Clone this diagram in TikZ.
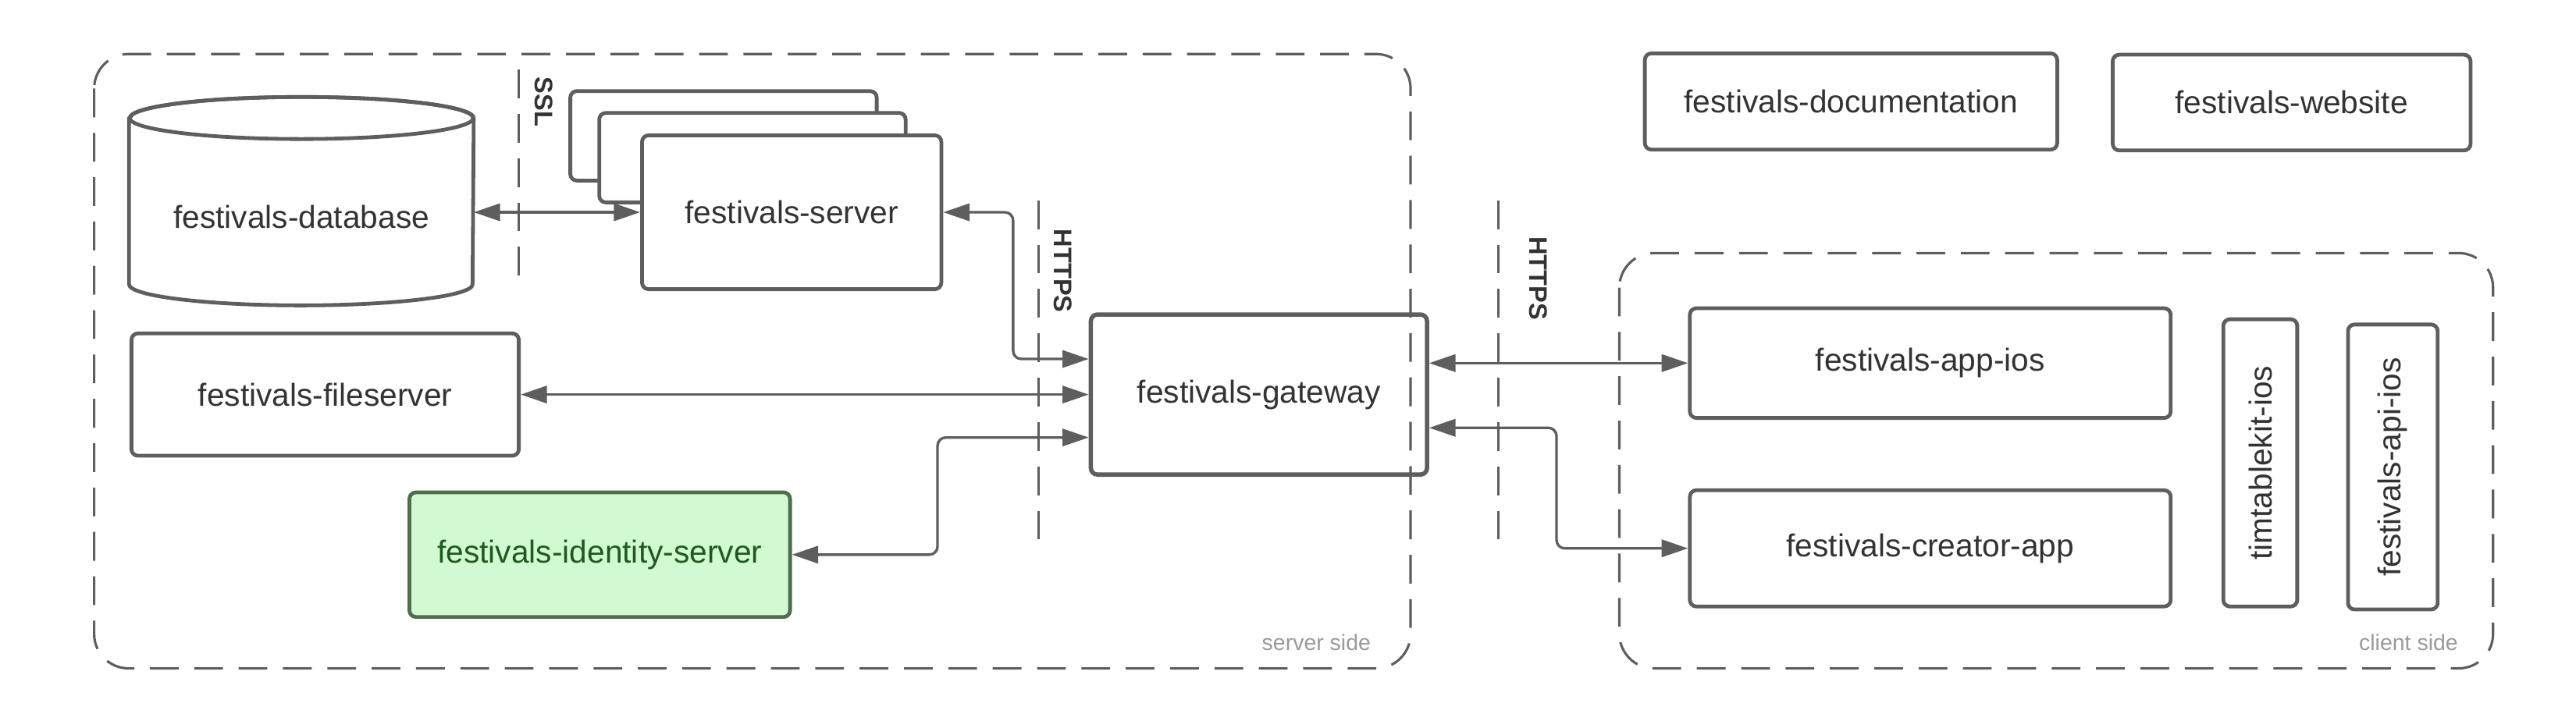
\documentclass[tikz,border=0pt]{standalone}
\usepackage{fontspec}
\setmainfont{Liberation Sans}
\usetikzlibrary{arrows.meta}
\definecolor{linegray}{HTML}{5E5E5E}
\definecolor{textgray}{HTML}{333333}
\definecolor{sidegray}{HTML}{9A9A9A}
\definecolor{idfill}{HTML}{D2FAD2}
\definecolor{idtext}{HTML}{1E5A1E}
\definecolor{idline}{HTML}{4E6E4E}
\begin{document}
\begin{tikzpicture}[x=0.2mm, y=-0.2mm, line join=round, line cap=round,
	>={Triangle[length=3.2mm,width=2.1mm]},
	font=\fontsize{11}{13}\selectfont, text=textgray,
	box/.style={draw=linegray, line width=1.3pt, rounded corners=0.8mm, fill=white, inner sep=0pt},
	zone/.style={draw=linegray, line width=0.85pt, line cap=butt, dash pattern=on 3.5mm off 1.9mm, rounded corners=4.2mm},
	cut/.style={draw=linegray, line width=0.75pt, line cap=butt, dash pattern=on 3.5mm off 1.9mm},
	conn/.style={draw=linegray, line width=0.9pt, <->, rounded corners=1mm},
	proto/.style={font=\fontsize{8.8}{10}\selectfont\bfseries, rotate=-90, inner sep=0pt},
	side/.style={font=\fontsize{7.7}{9}\selectfont, text=sidegray, anchor=base east, inner sep=0pt}]
	\useasboundingbox (0,0) rectangle (1568,439);
	\def\rx{20.91mm} % ban kinh ngang cua hinh tru
	\def\ry{2.56mm} % ban kinh doc
	% database
	\node[minimum width=41.82mm, minimum height=20.12mm, inner sep=0pt] (db) at (183.45,122.5) {};
	\draw[draw=linegray, line width=1.3pt, fill=white] (db.north west) -- (db.south west) arc (180:360:{\rx} and {\ry}) -- (db.north east) arc (0:180:{\rx} and {\ry}) -- cycle;
	\draw[draw=linegray, line width=1.3pt] (db.north) ellipse ({\rx} and {\ry});
	\node (dbtext) at (183.45,132) {festivals-database};
	% server side
	\foreach \i/\dx/\dy in {1/0/0, 2/17.6/13.3}
		\node[box, minimum width=37.3mm, minimum height=10.9mm] (srvback\i) at (440.4+\dx,82.7+\dy) {};
	\node[box, minimum width=36.44mm, minimum height=18.74mm] (server) at (481.9,129.25) {festivals-server};
	\node[box, minimum width=47.16mm, minimum height=14.9mm] (fileserver) at (197.9,240.25) {festivals-fileserver};
	\node[box, fill=idfill, draw=idline, text=idtext, minimum width=46.34mm, minimum height=15.18mm] (identity) at (365.05,337.75) {festivals-identity-server};
	\node[box, line width=1.5pt, minimum width=40.92mm, minimum height=19.5mm] (gateway) at (766.3,240.25) {festivals-gateway};
	% client side
	\node[box, minimum width=58.54mm, minimum height=13.36mm] (appios) at (1174.95,221.1) {festivals-app-ios};
	\node[box, minimum width=58.54mm, minimum height=14.16mm] (creator) at (1174.95,333.9) {festivals-creator-app};
	\node[box, rotate=90, minimum width=34.98mm, minimum height=9mm] (timtable) at (1375.8,281.85) {timtablekit-ios};
	\node[box, rotate=90, minimum width=34.7mm, minimum height=10.92mm] (apiios) at (1456.5,284.35) {festivals-api-ios};
	\node[box, minimum width=50.2mm, minimum height=11.72mm] (docs) at (1126.7,61.8) {festivals-documentation};
	\node[box, minimum width=43.56mm, minimum height=11.66mm] (website) at (1394.9,62.45) {festivals-website};
	% protocol lines
	\draw[cut] (315.8,42.3) -- (315.8,172.5);
	\node[proto] (ssl) at (330.8,62) {SSL};
	\draw[cut] (632,122) -- (632,336);
	\node[proto] (httpsin) at (647,165) {HTTPS};
	\draw[cut] (912,122) -- (912,336);
	\node[proto] (httpsout) at (936.5,169.5) {HTTPS};
	% connectors
	\draw[conn] (db.east |- server.west) -- (server.west);
	\draw[conn] (server.east) -| ([xshift=-9.2mm,yshift=4.33mm]gateway.west) -- ([yshift=4.33mm]gateway.west);
	\draw[conn] (fileserver.east) -- (gateway.west);
	\draw[conn] (identity.east) -| ([xshift=-18.4mm,yshift=-5.23mm]gateway.west) -- ([yshift=-5.23mm]gateway.west);
	\draw[conn] (gateway.east |- appios.west) -- (appios.west);
	\draw[conn] ([yshift=-4.05mm]gateway.east) -| ([xshift=-16mm]creator.west) -- (creator.west);
	% zones
	\draw[zone] (57.3,32.9) rectangle (858.6,407);
	\node[side] (srvside) at (834.7,396) {server side};
	\draw[zone] (985.7,154.1) rectangle (1517.5,407);
	\node[side] (clside) at (1496.5,396) {client side};
\end{tikzpicture}
\end{document}
